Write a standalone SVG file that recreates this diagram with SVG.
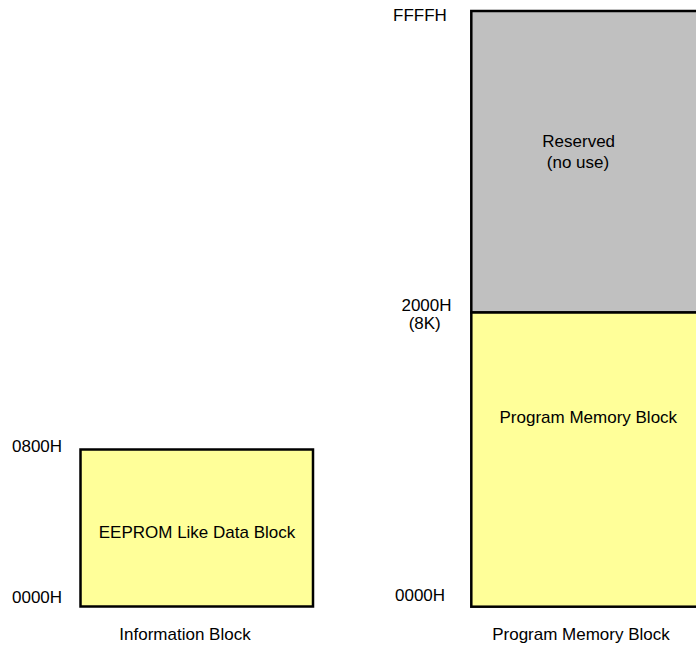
<svg xmlns="http://www.w3.org/2000/svg" width="696" height="646" viewBox="0 0 696 646">
<style>
text{font-family:"Liberation Sans",Arial,sans-serif;font-size:17px;fill:#000}
.m{text-anchor:middle}
.blk{stroke:#000;stroke-width:2.5}
</style>
<rect width="696" height="646" fill="#fff"/>
<g id="info-block">
<rect class="blk" x="80.5" y="449.5" width="232.5" height="157" fill="#FFFF99"/>
<text class="m" x="197" y="538">EEPROM Like Data Block</text>
<text x="12" y="452">0800H</text>
<text x="12" y="603">0000H</text>
<text class="m" x="185" y="640">Information Block</text>
</g>
<g id="reserved">
<rect class="blk" x="471.3" y="11" width="240" height="301.5" fill="#C0C0C0"/>
<text class="m" x="578.7" y="147">Reserved</text>
<text class="m" x="578" y="168">(no use)</text>
</g>
<g id="program-memory">
<rect class="blk" x="471.3" y="312.5" width="240" height="294.2" fill="#FFFF99"/>
<text class="m" x="588.3" y="423">Program Memory Block</text>
</g>
<g id="labels">
<text x="393" y="21">FFFFH</text>
<text class="m" x="426.5" y="311">2000H</text>
<text class="m" x="424.7" y="329">(8K)</text>
<text x="395" y="601">0000H</text>
<text class="m" x="581" y="640">Program Memory Block</text>
</g>
<g id="connectors"></g>
</svg>
